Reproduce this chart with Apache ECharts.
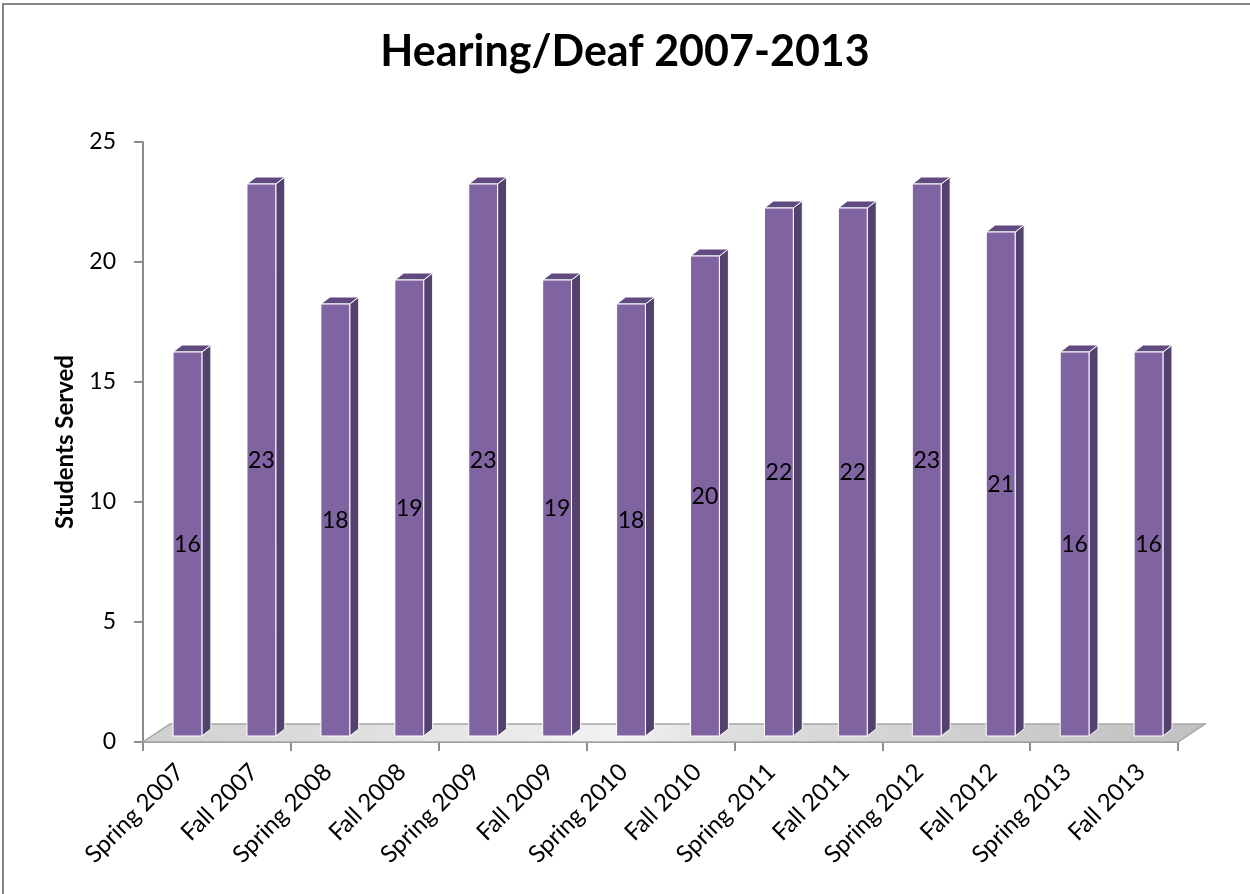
<!DOCTYPE html>
<html>
<head>
<meta charset="utf-8">
<title>Hearing/Deaf 2007-2013</title>
<script src="https://cdn.jsdelivr.net/npm/echarts@6/dist/echarts.min.js"></script>
<style>
  html, body { margin: 0; padding: 0; background: #ffffff; }
  #chart { width: 1250px; height: 894px; }
</style>
</head>
<body>
<div id="chart"></div>
<script>
// Semesters on the category axis
const categories = [
  'Spring 2007', 'Fall 2007', 'Spring 2008', 'Fall 2008', 'Spring 2009',
  'Fall 2009', 'Spring 2010', 'Fall 2010', 'Spring 2011', 'Fall 2011',
  'Spring 2012', 'Fall 2012', 'Spring 2013', 'Fall 2013'
];
// Number of students served each semester
const studentsServed = [16, 23, 18, 19, 23, 19, 18, 20, 22, 22, 23, 21, 16, 16];
// Value axis range
const yMin = 0;
const yMax = 25;
const yStep = 5;

const FONT = 'Lato, "Noto Sans", sans-serif';

// Pseudo-3D look: bars sit slightly back on a tilted floor
const BAR_SHIFT_X = 7.5;   // bar front face offset from band centre
const BAR_SHIFT_Y = -6;    // bar base raised above the floor front edge
const DEPTH_X = 9;         // side/top face depth
const DEPTH_Y = -7;
const FLOOR_DX = 27;       // floor depth
const FLOOR_DY = -18;
// Slanted category labels: end of each label sits under its band
const LABEL_DX = 0;
const LABEL_DY = 26;

const chart = echarts.init(document.getElementById('chart'), null, { renderer: 'canvas' });

function renderFloor(params, api) {
  const bw = api.size([1, 0])[0];
  const first = api.coord([0, yMin]);
  const last = api.coord([categories.length - 1, yMin]);
  const xl = first[0] - bw / 2;
  const xr = last[0] + bw / 2;
  const y = first[1];
  return {
    type: 'polygon',
    shape: { points: [[xl, y], [xr, y], [xr + FLOOR_DX, y + FLOOR_DY], [xl + FLOOR_DX, y + FLOOR_DY]] },
    style: {
      fill: new echarts.graphic.LinearGradient(0, 0, 1, 1, [
        { offset: 0, color: '#cfcfcf' },
        { offset: 0.45, color: '#f2f2f2' },
        { offset: 0.55, color: '#dedede' },
        { offset: 1, color: '#c0c0c0' }
      ]),
      stroke: '#a6a6a6',
      lineWidth: 1.5
    },
    z2: 0
  };
}

function renderCategoryLabel(params, api) {
  const idx = api.value(0);
  const p = api.coord([idx, yMin]);
  return {
    type: 'text',
    x: p[0] + LABEL_DX,
    y: p[1] + LABEL_DY,
    rotation: Math.PI / 4,
    style: {
      text: categories[idx],
      x: 0,
      y: 0,
      align: 'right',
      verticalAlign: 'middle',
      fill: '#000000',
      font: '24px ' + FONT
    }
  };
}

function renderBar(params, api) {
  const idx = api.value(0);
  const v = api.value(1);
  const base = api.coord([idx, yMin]);
  const top = api.coord([idx, v]);
  const bw = api.size([1, 0])[0];
  const faceW = bw * 0.39;
  const x0 = base[0] + BAR_SHIFT_X - faceW / 2;
  const x1 = x0 + faceW;
  const y0 = base[1] + BAR_SHIFT_Y;
  const y1 = top[1] + BAR_SHIFT_Y;
  const edge = { stroke: '#ffffff', lineWidth: 1 };
  return {
    type: 'group',
    children: [
      {
        type: 'polygon',
        shape: { points: [[x1, y0], [x1 + DEPTH_X, y0 + DEPTH_Y], [x1 + DEPTH_X, y1 + DEPTH_Y], [x1, y1]] },
        style: Object.assign({ fill: '#53416e' }, edge)
      },
      {
        type: 'polygon',
        shape: { points: [[x0, y1], [x1, y1], [x1 + DEPTH_X, y1 + DEPTH_Y], [x0 + DEPTH_X, y1 + DEPTH_Y]] },
        style: Object.assign({ fill: '#5f4b80' }, edge)
      },
      {
        type: 'rect',
        shape: { x: x0, y: y1, width: faceW, height: y0 - y1 },
        style: Object.assign({ fill: '#8064a2' }, edge)
      },
      {
        type: 'text',
        style: {
          text: String(v),
          x: x0 + faceW / 2,
          y: (y0 + y1) / 2 + 1,
          align: 'center',
          verticalAlign: 'middle',
          fill: '#000000',
          font: '23px ' + FONT
        },
        z2: 10
      }
    ]
  };
}

const option = {
  animation: false,
  backgroundColor: '#ffffff',
  title: {
    text: 'Hearing/Deaf 2007-2013',
    left: 'center',
    top: 26,
    textStyle: { fontFamily: FONT, fontWeight: 'bold', fontSize: 43, color: '#000000' }
  },
  graphic: [
    {
      type: 'rect',
      shape: { x: 3, y: 4, width: 1400, height: 1000 },
      style: { fill: 'none', stroke: '#868686', lineWidth: 2 },
      silent: true
    }
  ],
  grid: { left: 143, right: 72, top: 142, bottom: 152 },
  xAxis: {
    type: 'category',
    data: categories,
    boundaryGap: true,
    axisLine: { lineStyle: { color: '#8c8c8c', width: 2 } },
    axisTick: { show: true, length: 9, alignWithLabel: false, lineStyle: { color: '#8c8c8c', width: 2 } },
    axisLabel: { show: false },
    splitLine: { show: false }
  },
  yAxis: {
    type: 'value',
    min: yMin,
    max: yMax,
    interval: yStep,
    name: 'Students Served',
    nameLocation: 'middle',
    nameGap: 66,
    nameRotate: 90,
    nameTextStyle: { fontFamily: FONT, fontWeight: 'bold', fontSize: 24, color: '#000000' },
    axisLine: { show: true, lineStyle: { color: '#8c8c8c', width: 2 } },
    axisTick: { show: true, length: 9, lineStyle: { color: '#8c8c8c', width: 2 } },
    axisLabel: { margin: 27, fontFamily: FONT, fontSize: 23, color: '#000000' },
    splitLine: { show: false }
  },
  series: [
    {
      type: 'custom',
      name: 'floor',
      renderItem: renderFloor,
      data: [[0, 0]],
      clip: false,
      silent: true,
      z: 1
    },
    {
      type: 'custom',
      name: 'Students Served',
      renderItem: renderBar,
      data: studentsServed.map((v, i) => [i, v]),
      encode: { x: 0, y: 1 },
      clip: false,
      z: 2
    },
    {
      type: 'custom',
      name: 'semester labels',
      renderItem: renderCategoryLabel,
      data: categories.map((c, i) => [i, yMin]),
      encode: { x: 0, y: 1 },
      clip: false,
      silent: true,
      z: 3
    }
  ]
};

chart.setOption(option);
</script>
</body>
</html>
